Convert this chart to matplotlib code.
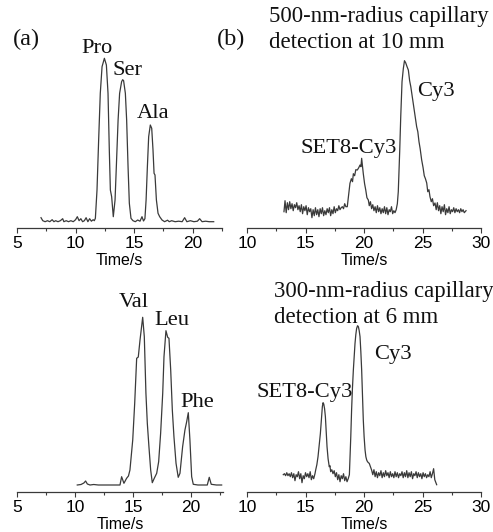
import matplotlib
matplotlib.use("Agg")
import matplotlib.pyplot as plt
from matplotlib.ticker import MultipleLocator

# electropherogram traces, (time in s, signal in a.u.)
pro_ser_ala = [
    (7.05, 4), (7.2, 1), (7.4, 0), (7.6, 1), (7.8, 0), (8.0, 2), (8.15, 0), (8.3, 1),
    (8.5, 0), (8.7, 1), (8.9, 3), (9.0, 0), (9.2, 1), (9.4, 0), (9.6, 1), (9.8, 0),
    (10.0, 2), (10.15, 5), (10.3, 1), (10.45, 3), (10.6, 0), (10.75, 1), (10.9, 4),
    (11.05, 0), (11.2, 3), (11.35, 0.5), (11.5, 2), (11.6, 1), (11.69, 3.4),
    (11.83, 31.7), (11.97, 81.7), (12.11, 128.4), (12.26, 155), (12.46, 163.4),
    (12.63, 156.7), (12.77, 128.4), (12.88, 71.7), (12.97, 31.7), (13.08, 25),
    (13.22, 5), (13.37, 21.7), (13.48, 55), (13.63, 101.7), (13.76, 128.4),
    (13.93, 140), (14.02, 142), (14.10, 141), (14.25, 128.4), (14.36, 101.7),
    (14.48, 55), (14.59, 18.4), (14.73, 3.4), (14.9, 1), (15.1, 0), (15.3, 1.7),
    (15.5, 0.5), (15.67, 5), (15.8, 0.7), (15.92, 3), (16.02, 21.7), (16.13, 55),
    (16.24, 85), (16.38, 96.7), (16.50, 93.4), (16.61, 71.7), (16.70, 48.4),
    (16.78, 46.7), (16.90, 21.7), (17.04, 8.4), (17.18, 5), (17.38, 1.7), (17.6, 0),
    (17.85, 1.5), (18.0, 0), (18.2, 1), (18.5, 0), (18.8, 0.5), (19.1, 0),
    (19.31, 4), (19.5, 0), (19.8, 1), (20.1, 0), (20.4, 0.5), (20.59, 3), (20.8, 0),
    (21.1, 0.5), (21.4, 0), (21.79, 0),
]

val_leu_phe = [
    (10.18, 0), (10.5, 0.5), (10.75, 2), (10.9, 4), (11.05, 1), (11.28, 0),
    (11.6, 0.5), (12.0, 0), (12.5, 0), (13.0, 0), (13.5, 0), (13.87, 0),
    (14.01, 8.3), (14.21, 1.7), (14.44, 6.7), (14.6, 9), (14.73, 15), (14.97, 45),
    (15.14, 81.7), (15.31, 126.7), (15.45, 128), (15.60, 145), (15.83, 167.7),
    (15.97, 148.3), (16.11, 91.7), (16.23, 61.7), (16.37, 38.3), (16.52, 15),
    (16.66, 2.3), (16.83, 6.7), (17.04, 11.7), (17.21, 23.3), (17.38, 51.7),
    (17.56, 91.7), (17.67, 128.3), (17.84, 154.3), (17.99, 147.7), (18.10, 146.7),
    (18.25, 115), (18.39, 75), (18.53, 48.3), (18.71, 21.7), (18.90, 7.7),
    (19.05, 11.7), (19.28, 38.3), (19.48, 55), (19.63, 63.3), (19.77, 72.3),
    (19.91, 45), (20.06, 8.3), (20.20, 0.7), (20.6, 0), (21.0, 0), (21.41, 0),
    (21.58, 7.7), (21.75, 0.7), (22.2, 0), (22.65, 0),
]

cap500 = [
    (13.16, 0), (13.25, 11), (13.35, -1), (13.45, 9), (13.55, 2), (13.65, 10),
    (13.75, 3), (13.85, 8), (13.95, 1), (14.05, 7), (14.15, 4), (14.25, 9),
    (14.35, 2), (14.45, 6), (14.55, 0), (14.65, 7), (14.75, -2), (14.85, 5),
    (14.95, 1), (15.05, 6), (15.15, -3), (15.25, 4), (15.35, 0), (15.45, 3),
    (15.55, -6), (15.65, 2), (15.75, -4), (15.85, 4), (15.95, -3), (16.05, 2),
    (16.15, -5), (16.25, 3), (16.35, -2), (16.45, 4), (16.55, -4), (16.65, 1),
    (16.75, -3), (16.85, 3), (16.95, -1), (17.05, 4), (17.15, -4), (17.25, 2),
    (17.35, -2), (17.45, 5), (17.55, -1), (17.65, 3), (17.75, 1), (17.85, 6),
    (17.95, 2), (18.05, 4), (18.15, 5), (18.25, 3), (18.35, 8), (18.45, 5),
    (18.57, 5), (18.70, 18), (18.80, 28.4), (18.92, 33), (19.02, 30), (19.09, 38),
    (19.2, 36), (19.3, 42), (19.43, 41.7), (19.55, 44), (19.66, 46.7), (19.74, 45),
    (19.80, 53.4), (19.87, 46), (19.94, 38), (20.05, 28), (20.15, 21.7),
    (20.25, 14), (20.37, 11.7), (20.45, 6), (20.55, 10), (20.65, 3), (20.75, 7),
    (20.85, 1), (20.95, 5), (21.05, -1), (21.15, 6), (21.25, 0), (21.35, 4),
    (21.45, -2), (21.55, 3), (21.65, -1), (21.75, 5), (21.85, -2), (21.95, 4),
    (22.05, -3), (22.15, 2), (22.25, 0), (22.35, 5), (22.45, -2), (22.55, 1),
    (22.65, -1), (22.75, 2), (22.85, 8), (22.93, 20), (23.05, 60), (23.14, 95),
    (23.25, 130), (23.36, 143), (23.46, 151), (23.56, 149), (23.68, 145),
    (23.79, 141.7), (23.9, 131), (24.0, 125), (24.08, 118.4), (24.2, 108),
    (24.3, 101), (24.4, 93), (24.50, 85), (24.6, 80), (24.7, 70), (24.8, 63),
    (24.93, 51.7), (25.05, 44), (25.15, 36), (25.25, 33), (25.36, 28.7),
    (25.45, 20), (25.55, 22), (25.64, 15), (25.75, 10), (25.85, 13), (25.95, 6),
    (26.07, 8.7), (26.17, 2), (26.27, 9), (26.37, 1), (26.47, 6), (26.57, -2),
    (26.67, 5), (26.77, 0), (26.87, 7), (26.97, -3), (27.07, 3), (27.17, -1),
    (27.27, 5), (27.37, -2), (27.47, 2), (27.57, 0), (27.67, 4), (27.77, -1),
    (27.87, 3), (27.97, 0), (28.07, 2), (28.17, -1), (28.27, 3), (28.37, 0),
    (28.47, 2), (28.57, -1), (28.72, 1),
]

cap300 = [
    (13.10, 2), (13.2, 3), (13.3, 1), (13.4, 4), (13.5, 1), (13.6, 3), (13.7, 0),
    (13.8, 4), (13.9, -1), (14.0, 3), (14.1, -4), (14.2, 2), (14.3, 0), (14.4, 5),
    (14.5, -2), (14.6, 3), (14.7, -6), (14.8, 1), (14.9, -2), (15.0, 4), (15.1, 0),
    (15.2, 3), (15.3, -1), (15.4, 5), (15.5, -3), (15.6, 1), (15.7, -2), (15.81, 3),
    (15.87, 6.7), (15.97, 12), (16.07, 20), (16.17, 32), (16.27, 43), (16.36, 58),
    (16.44, 70), (16.5, 74), (16.56, 72.7), (16.63, 68), (16.70, 60), (16.77, 45),
    (16.84, 30), (16.93, 18), (17.03, 10), (17.09, 11), (17.15, 5), (17.25, 7),
    (17.35, 3), (17.45, 6), (17.55, 0), (17.65, 4), (17.75, -3), (17.85, 2),
    (17.95, -5), (18.05, 1), (18.15, -2), (18.25, 3), (18.35, -4), (18.45, 0),
    (18.55, -5), (18.65, -2), (18.75, 2), (18.80, 16.7), (18.87, 40),
    (18.94, 66.7), (19.01, 88), (19.09, 106.7), (19.16, 120), (19.23, 133),
    (19.30, 142), (19.37, 148.3), (19.45, 151), (19.52, 150), (19.59, 146),
    (19.66, 140), (19.73, 125), (19.80, 106.7), (19.87, 82), (19.94, 56.7),
    (20.01, 40), (20.09, 26.7), (20.16, 20), (20.23, 16.7), (20.3, 15),
    (20.38, 14), (20.45, 13.3), (20.55, 10), (20.65, 6.7), (20.75, 2), (20.85, 7),
    (20.95, 0), (21.05, 5), (21.15, -1), (21.25, 4), (21.35, 1), (21.45, 6),
    (21.55, -1), (21.65, 4), (21.75, 0), (21.85, 6), (21.95, 1), (22.05, 4),
    (22.15, -1), (22.25, 5), (22.35, 0), (22.45, 3), (22.55, -1), (22.65, 5),
    (22.75, 0), (22.85, 4), (22.95, -1), (23.05, 3), (23.15, 1), (23.25, 5),
    (23.35, -1), (23.45, 4), (23.55, 0), (23.65, 6), (23.75, -1), (23.85, 4),
    (23.95, 0), (24.05, 5), (24.15, -2), (24.25, 3), (24.35, 1), (24.45, 5),
    (24.55, -1), (24.65, 4), (24.75, 0), (24.85, 3), (24.95, -2), (25.05, 4),
    (25.15, 0), (25.25, 3), (25.35, -1), (25.45, 2), (25.55, 0), (25.65, 5),
    (25.75, -1), (25.85, 3), (25.95, 8), (26.05, -3), (26.21, -8),
]

xlims = [(5, 22.5), (10, 30), (5, 22.75), (10, 30)]
ylims = [(-6.3, 181.7), (-16.3, 171.7), (-7, 195), (-15.3, 186.7)]

W, H = 493, 532
serif = "Liberation Serif"
sans = "Liberation Sans"
line_col = "#3a3a3a"


def px(x, y):
    return x / W, 1 - y / H


fig = plt.figure(figsize=(W / 100, H / 100), dpi=100)

rects = [
    (17, 228, 205, 188),
    (247, 228, 234, 188),
    (17.3, 492, 205.5, 202),
    (247, 492, 234, 202),
]
traces = [pro_ser_ala, cap500, val_leu_phe, cap300]

for (l, b, w, h), tr, xl, yl in zip(rects, traces, xlims, ylims):
    ax = fig.add_axes([l / W, (H - b) / H, w / W, h / H])
    t = [p[0] for p in tr]
    s = [p[1] for p in tr]
    ax.plot(t, s, color=line_col, lw=0.9)
    ax.set_xlim(*xl)
    ax.set_ylim(*yl)
    for side in ["left", "right", "top"]:
        ax.spines[side].set_visible(False)
    ax.spines["bottom"].set_color(line_col)
    ax.spines["bottom"].set_linewidth(0.9)
    ax.set_yticks([])
    ax.xaxis.set_major_locator(MultipleLocator(5))
    ax.xaxis.set_minor_locator(MultipleLocator(2.5))
    ax.tick_params(axis="x", which="major", direction="out", length=3.5,
                   width=0.8, color=line_col, pad=2.5, labelsize=12.5)
    ax.tick_params(axis="x", which="minor", direction="out", length=2.2,
                   width=0.8, color=line_col)
    for lab in ax.get_xticklabels():
        lab.set_fontfamily(sans)
    ax.set_xlabel("Time/s", fontfamily=sans, fontsize=11.5, labelpad=1)
    ax.patch.set_alpha(0)

# panel letters and peak labels
labels = [
    ("(a)", 13, 45, 17.5),
    ("(b)", 217, 45, 17.5),
    ("Pro", 81, 53, 16.2),
    ("Ser", 112, 75, 16.2),
    ("Ala", 137, 118, 16.2),
    ("500-nm-radius capillary", 269, 22, 16.4),
    ("detection at 10 mm", 269, 48, 16.4),
    ("Cy3", 417, 96, 16.2),
    ("SET8-Cy3", 301, 153, 16.2),
    ("Val", 119, 307, 16.2),
    ("Leu", 154, 325, 16.2),
    ("Phe", 180, 407, 16.2),
    ("300-nm-radius capillary", 274, 297, 16.4),
    ("detection at 6 mm", 274, 323, 16.4),
    ("Cy3", 374, 359, 16.2),
    ("SET8-Cy3", 256, 397, 16.2),
]
for txt, x, y, size in labels:
    fx, fy = px(x, y)
    fig.text(fx, fy, txt, fontfamily=serif, fontsize=size, va="baseline",
             ha="left", color="#111111")

fig.savefig("out.png", dpi=100)
